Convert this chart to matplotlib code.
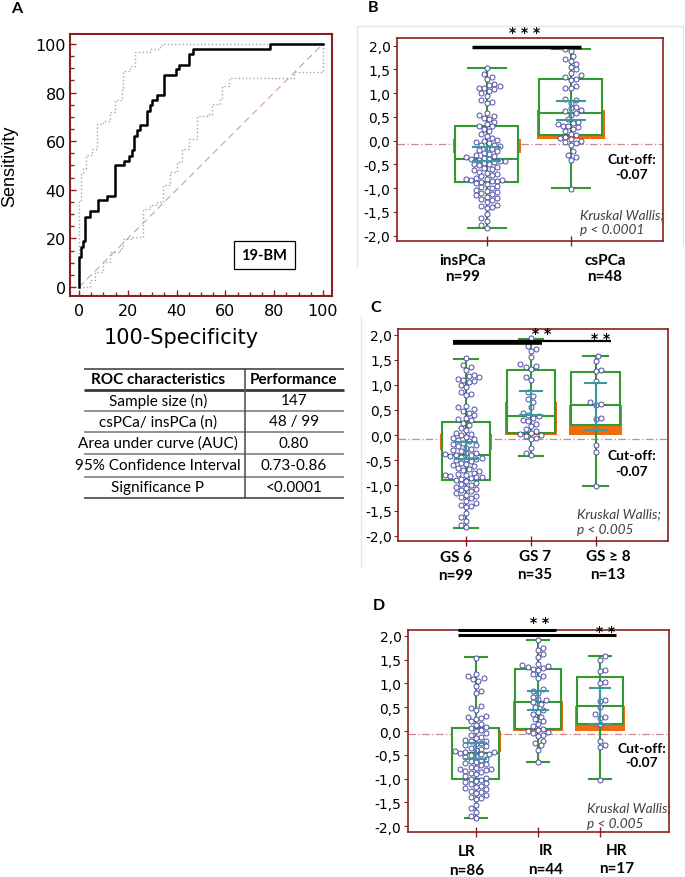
import numpy as np
import matplotlib
matplotlib.use("Agg")
import matplotlib.pyplot as plt
from matplotlib.patches import Rectangle
from matplotlib.ticker import MultipleLocator

# ---------------- ROC data (panel A) ----------------
roc_fpr = [0, 0, 0.8, 1.8, 2.6, 4.5, 7.9, 11.6, 14.8, 18.5, 20.5, 21.9, 22.7, 23.7, 24.8,
           27.8, 28.9, 29.8, 31.9, 34.9, 39.7, 40.8, 44.9, 46.9, 78.3, 100]
roc_tpr = [0, 12.3, 16.4, 18.8, 28.8, 31.1, 35.6, 37.4, 50.0, 52.0, 54.1, 56.2, 62.3, 64.4, 66.7,
           72.6, 74.9, 77.0, 79.2, 87.3, 89.5, 91.5, 95.8, 97.9, 100, 100]
ci_up_fpr = [0, 0, 0.8, 1.8, 2.8, 5.5, 7.3, 9.9, 12.5, 14.8, 17.5, 18.2, 21.0, 23.0, 29.1, 33.2, 35.0, 100]
ci_up_tpr = [0, 35.6, 47.0, 49.0, 54.4, 56.6, 67.0, 68.3, 72.0, 77.0, 82.0, 88.8, 91.0, 96.6, 98.0, 99.4, 100, 100]
ci_lo_fpr = [0, 4.5, 6.5, 9.8, 12.5, 16.7, 18.0, 21.5, 26.1, 29.1, 31.9, 34.6, 37.3, 40.1, 42.1,
             44.9, 48.3, 53.1, 54.4, 57.9, 58.5, 61.3, 88.0, 100, 100]
ci_lo_tpr = [0, 3.0, 6.0, 10.3, 14.4, 16.0, 19.6, 20.5, 31.9, 33.6, 35.0, 41.8, 47.3, 51.4, 56.8,
             61.0, 70.5, 71.2, 75.3, 77.4, 82.9, 85.9, 88.5, 90.4, 100]
diag = [0, 100]
roc_label = "19-BM"

# ---------------- table ----------------
table_header = ["ROC characteristics", "Performance"]
table_rows = ["Sample size (n)", "csPCa/ insPCa (n)", "Area under curve (AUC)",
              "95% Confidence Interval", "Significance P"]
table_vals = ["147", "48 / 99", "0.80", "0.73-0.86", "<0.0001"]

# ---------------- individual values ----------------
vals_inspca = [1.53, 1.40, 1.35, 1.30, 1.20, 1.18, 1.15, 1.12, 1.10, 1.08, 1.05, 1.00, 0.95, 0.85,
               0.82, 0.80, 0.58, 0.55, 0.52, 0.48, 0.45, 0.40, 0.35, 0.32, 0.30,
               0.25, 0.20, 0.15, 0.10, 0.05, 0.02, 0.00, -0.03, -0.05, -0.08, -0.10, -0.12, -0.15,
               -0.18, -0.20, -0.22, -0.25, -0.28, -0.30, -0.32, -0.35, -0.36, -0.38, -0.39,
               -0.40,
               -0.42, -0.43, -0.45, -0.47, -0.48, -0.50, -0.52, -0.55, -0.58, -0.60, -0.62, -0.65,
               -0.68, -0.70, -0.72, -0.75, -0.78, -0.80, -0.80, -0.82, -0.83, -0.84, -0.85, -0.87,
               -0.90, -0.92, -0.95, -0.98, -1.00, -1.03, -1.05, -1.08, -1.10, -1.12, -1.15, -1.18,
               -1.20, -1.22, -1.25, -1.30, -1.35, -1.38, -1.40, -1.42, -1.55, -1.62, -1.70, -1.78, -1.83]
vals_cspca = [1.93, 1.88, 1.78, 1.72, 1.68, 1.62, 1.55, 1.50, 1.42, 1.38, 1.35, 1.30,
              1.28, 1.15, 1.12, 1.10, 0.88, 0.85, 0.80, 0.72, 0.68, 0.65, 0.62, 0.58,
              0.55, 0.45, 0.40, 0.38, 0.35, 0.32, 0.30, 0.28, 0.25, 0.20, 0.15, 0.12,
              0.08, 0.05, 0.03, 0.00, -0.03, -0.05, -0.10, -0.22, -0.30, -0.35, -0.40, -1.02]
vals_gs6 = vals_inspca
vals_gs7 = [1.93, 1.78, 1.72, 1.68, 1.55, 1.42, 1.38, 1.35, 1.32,
            1.15, 1.10, 0.85, 0.78, 0.72, 0.65, 0.55, 0.45, 0.40,
            0.38, 0.35, 0.30, 0.28, 0.22, 0.18, 0.12, 0.08,
            0.05, 0.02, 0.00, -0.02, -0.05, -0.08, -0.25, -0.35, -0.40]
vals_gs8 = [-1.02, -0.33, -0.20, 0.33, 0.35, 0.60, 0.62, 0.65, 1.07, 1.28, 1.30, 1.48, 1.58]
vals_lr = [1.53, 1.20, 1.15, 1.12, 1.10, 1.05, 0.95, 0.85, 0.80, 0.52, 0.48, 0.45, 0.32, 0.30,
           0.28, 0.25, 0.20, 0.15, 0.12, 0.08, 0.06,
           0.03, 0.00, -0.05, -0.08, -0.12, -0.15, -0.18, -0.20, -0.22, -0.25, -0.28, -0.30,
           -0.32, -0.35, -0.38, -0.40, -0.42, -0.43, -0.45, -0.47, -0.48, -0.49, -0.50,
           -0.52, -0.55, -0.58, -0.60, -0.62, -0.65, -0.68, -0.70, -0.72, -0.75, -0.78, -0.80,
           -0.80, -0.82, -0.83, -0.85, -0.88, -0.90, -0.95, -0.98, -1.00,
           -1.03, -1.05, -1.08, -1.10, -1.12, -1.15, -1.18, -1.20, -1.22, -1.25, -1.28, -1.30,
           -1.35, -1.38, -1.40, -1.42, -1.55, -1.62, -1.70, -1.78, -1.83]
vals_ir = [1.92, 1.75, 1.70, 1.62, 1.55, 1.40, 1.38, 1.36, 1.35, 1.33, 1.31,
           1.28, 1.20, 1.15, 1.12, 0.88, 0.85, 0.80, 0.72, 0.68, 0.65, 0.60,
           0.56, 0.50, 0.45, 0.40, 0.35, 0.30, 0.25, 0.20, 0.15, 0.10, 0.05,
           0.02, 0.00, -0.02, -0.05, -0.08, -0.10, -0.20, -0.25, -0.30, -0.40, -0.66]
vals_hr = [-1.02, -0.33, -0.30, -0.20, 0.15, 0.28, 0.30, 0.35, 0.50, 0.62, 0.65, 1.00, 1.02,
           1.25, 1.28, 1.50, 1.57]

# ---------------- box statistics ----------------
b_groups = ["insPCa", "csPCa"]
b_n = [99, 48]
b_q1 = [-0.88, 0.12]
b_med = [-0.39, 0.575]
b_q3 = [0.30, 1.30]
b_min = [-1.83, -1.00]
b_max = [1.54, 1.93]
b_medci = [(-0.26, 0.03), (0.03, 0.64)]
b_meanci = [(-0.435, -0.126), (0.442, 0.842)]

c_groups = ["GS 6", "GS 7", "GS \u2265 8"]
c_n = [99, 35, 13]
c_q1 = [-0.886, 0.05, 0.20]
c_med = [-0.395, 0.39, 0.607]
c_q3 = [0.27, 1.30, 1.26]
c_min = [-1.84, -0.41, -1.02]
c_max = [1.52, 1.91, 1.58]
c_medci = [(-0.29, 0.02), (0.0, 0.65), (0.0, 0.59)]
c_meanci = [(-0.474, -0.13), (0.41, 0.886), (0.11, 1.045)]

d_groups = ["LR", "IR", "HR"]
d_n = [86, 44, 17]
d_q1 = [-1.01, 0.04, 0.15]
d_med = [-0.47, 0.60, 0.52]
d_q3 = [0.056, 1.30, 1.13]
d_min = [-1.83, -0.64, -1.00]
d_max = [1.545, 1.92, 1.58]
d_medci = [(-0.45, 0.01), (0.01, 0.64), (0.01, 0.52)]
d_meanci = [(-0.587, -0.25), (0.44, 0.846), (0.147, 0.895)]

cutoff = -0.07
b_test = ["Kruskal Wallis;", "p < 0.0001"]
cd_test = ["Kruskal Wallis;", "p < 0.005"]

# ---------------- style ----------------
W, H = 685, 878
DARKRED = '#8b1f1f'
GREEN = '#339933'
TEAL = '#3a9a9e'
ORANGE = '#f26a0f'
PTEDGE = '#4d4da8'
CAL = ['Lato', 'DejaVu Sans']

fig = plt.figure(figsize=(W / 100, H / 100), dpi=100)


def px_axes(l, t, r, b, **kw):
    return fig.add_axes([l / W, 1 - b / H, (r - l) / W, (b - t) / H], **kw)


# overlay in pixel coords for annotations / table
ov = px_axes(0, 0, W, H, zorder=20)
ov.set_xlim(0, W)
ov.set_ylim(H, 0)
ov.axis('off')
ov.patch.set_alpha(0)

# ---------------- Panel A ----------------
ax = px_axes(70, 35, 332, 297)
ax.set_xlim(-3.7, 103.7)
ax.set_ylim(-3.7, 104.1)
ax.plot(diag, diag, color='#c9a3a3', lw=0.8, ls=(0, (6, 4)), zorder=1)
ax.plot(ci_lo_fpr, ci_lo_tpr, drawstyle='steps-post', color='#a5a5a5', lw=1.0, ls=':', zorder=2)
ax.plot(ci_up_fpr, ci_up_tpr, drawstyle='steps-post', color='#a5a5a5', lw=1.0, ls=':', zorder=2)
ax.plot(roc_fpr, roc_tpr, drawstyle='steps-post', color='black', lw=1.8, zorder=3)
for s in ax.spines.values():
    s.set_color(DARKRED)
    s.set_linewidth(1.5)
ax.xaxis.set_major_locator(MultipleLocator(20))
ax.yaxis.set_major_locator(MultipleLocator(20))
ax.xaxis.set_minor_locator(MultipleLocator(5))
ax.yaxis.set_minor_locator(MultipleLocator(5))
ax.tick_params(which='both', direction='in', color=DARKRED, width=1.0, top=False, right=False)
ax.tick_params(which='major', length=4)
ax.tick_params(which='minor', length=3)
ax.tick_params(axis='x', pad=5)
ax.tick_params(axis='y', pad=3)
for lab in ax.get_xticklabels() + ax.get_yticklabels():
    lab.set_fontfamily('DejaVu Sans')
    lab.set_fontsize(11.5)
ax.text(76, 13.2, roc_label, ha='center', va='center', fontsize=10.5, fontweight='bold',
        family=CAL, bbox=dict(boxstyle='square,pad=0.5', fc='white', ec='black', lw=0.9), zorder=5)

ov.text(10, 166.7, "Sensitivity", rotation=90, ha='center', va='center', fontsize=13,
        family='Liberation Sans')
ov.text(181, 338, "100-Specificity", ha='center', va='center', fontsize=15, family='DejaVu Sans')
ov.text(16.7, 9.3, "A", ha='center', va='center', fontsize=11.5, fontweight='bold', family=CAL)

# ---------------- Table ----------------
tl, tr, tc = 84, 344, 245
hlines = [370, 391, 411.7, 432.5, 455, 477.5, 499]
for i, y in enumerate(hlines):
    if i in (0, len(hlines) - 1):
        col, lw = '#555555', 1.3
    elif i == 1:
        col, lw = '#3a3a3a', 2.0
    else:
        col, lw = '#8a8a8a', 1.3
    ov.plot([tl, tr], [y, y], color=col, lw=lw, solid_capstyle='butt')
ov.plot([tc, tc], [hlines[0], hlines[-1]], color='#555555', lw=1.2)
c1, c2 = 158, 294
ov.text(c1, (hlines[0] + hlines[1]) / 2, table_header[0], ha='center', va='center',
        fontsize=11, fontweight='bold', family=CAL)
ov.text(c2, (hlines[0] + hlines[1]) / 2, table_header[1], ha='center', va='center',
        fontsize=11, fontweight='bold', family=CAL)
for i, (r, v) in enumerate(zip(table_rows, table_vals)):
    yc = (hlines[i + 1] + hlines[i + 2]) / 2
    ov.text(c1, yc, r, ha='center', va='center', fontsize=11, family=CAL)
    ov.text(c2, yc, v, ha='center', va='center', fontsize=11, family=CAL)


# ---------------- box panels ----------------
def swarm_x(axx, xc, vals, diam=5.2):
    vals = np.asarray(vals, float)
    pts = axx.transData.transform(np.column_stack([np.full(len(vals), xc), vals]))
    xcd = pts[0, 0]
    ys = pts[:, 1]
    order = np.argsort(ys)
    placed = []
    xs = np.zeros(len(vals))
    for n, i in enumerate(order):
        y = ys[i]
        best = None
        for k in range(0, 80):
            sides = [0] if k == 0 else ([1, -1] if n % 2 == 0 else [-1, 1])
            for sg in sides:
                off = sg * k * diam * 0.5
                ok = True
                for (px, py) in placed:
                    if abs(py - y) < diam and (px - off) ** 2 + (py - y) ** 2 < diam ** 2:
                        ok = False
                        break
                if ok:
                    best = off
                    break
            if best is not None:
                break
        placed.append((best, y))
        xs[i] = xcd + best
    return axx.transData.inverted().transform(np.column_stack([xs, ys]))[:, 0]


def box_panel(axx, xlim, ylim, vals, q1, med, q3, vmin, vmax, medci, meanci,
              cap_w, teal_w=0.33, box_w=0.75):
    axx.set_xlim(*xlim)
    axx.set_ylim(*ylim)
    pos = list(range(len(vals)))
    axx.axhline(cutoff, color='#c98a8a', lw=0.9, ls=(0, (6, 2, 1, 2)), zorder=1)
    for i, x in enumerate(pos):
        axx.add_patch(Rectangle((x - box_w / 2 - 0.03, medci[i][0]), box_w + 0.06,
                                medci[i][1] - medci[i][0], fc=ORANGE, ec='none', zorder=2))
        axx.add_patch(Rectangle((x - box_w / 2, q1[i]), box_w, q3[i] - q1[i],
                                fc='white', ec=GREEN, lw=1.5, zorder=3))
        axx.plot([x - box_w / 2, x + box_w / 2], [med[i]] * 2, color=GREEN, lw=1.5, zorder=4)
        axx.plot([x, x], [vmin[i], vmax[i]], color=GREEN, lw=1.5, zorder=4)
        for v in (vmin[i], vmax[i]):
            axx.plot([x - cap_w / 2, x + cap_w / 2], [v, v], color=GREEN, lw=1.5, zorder=4)
        xs = swarm_x(axx, x, vals[i])
        axx.scatter(xs, vals[i], s=13, facecolor='white', edgecolor=PTEDGE, lw=0.7, zorder=5)
        axx.plot([x, x], meanci[i], color=TEAL, lw=1.5, zorder=6)
        for v in meanci[i]:
            axx.plot([x - teal_w / 2, x + teal_w / 2], [v, v], color=TEAL, lw=1.5, zorder=6)
    for s in axx.spines.values():
        s.set_color(DARKRED)
        s.set_linewidth(1.2)
    yt = np.arange(-2.0, 2.01, 0.5)
    axx.set_yticks(yt)
    axx.set_yticklabels([f"{v:.1f}".replace('.', ',') for v in yt], fontfamily='DejaVu Sans',
                        fontsize=10)
    axx.set_xticks(pos)
    axx.set_xticklabels([''] * len(pos))
    axx.tick_params(axis='y', direction='out', length=3, color=DARKRED, pad=1.5)
    axx.tick_params(axis='x', direction='inout', length=7, color=DARKRED, width=1.0)


# Panel B
axb = px_axes(396.7, 39.3, 662.7, 242.3)
box_panel(axb, (-1.07, 2.095), (-2.118, 2.156), [vals_inspca, vals_cspca], b_q1, b_med, b_q3,
          b_min, b_max, b_medci, b_meanci, cap_w=0.45)
axb.plot([-0.17, 1.12], [1.965, 1.965], color='black', lw=2.5, clip_on=False, zorder=7,
         solid_capstyle='butt')
axb.text(0.456, 2.28, "* * *", ha='center', va='center', fontsize=10, fontweight='bold',
         clip_on=False)

# Panel C
axc = px_axes(398.3, 330, 668.3, 542.3)
box_panel(axc, (-1.045, 3.12), (-2.11, 2.11), [vals_gs6, vals_gs7, vals_gs8], c_q1, c_med, c_q3,
          c_min, c_max, c_medci, c_meanci, cap_w=0.38)
axc.plot([-0.2, 2.23], [1.875, 1.875], color='black', lw=1.6, clip_on=False, zorder=7,
         solid_capstyle='butt')
axc.plot([-0.2, 1.17], [1.83, 1.83], color='black', lw=2.6, clip_on=False, zorder=7,
         solid_capstyle='butt')
axc.text(1.17, 2.03, "* *", ha='center', va='center', fontsize=10, fontweight='bold', clip_on=False)
axc.text(2.07, 1.93, "* *", ha='center', va='center', fontsize=10, fontweight='bold', clip_on=False)

# Panel D
axd = px_axes(407.7, 630.7, 669, 832.7)
box_panel(axd, (-1.093, 3.107), (-2.113, 2.126), [vals_lr, vals_ir, vals_hr], d_q1, d_med, d_q3,
          d_min, d_max, d_medci, d_meanci, cap_w=0.35)
axd.plot([-0.29, 1.29], [2.11, 2.11], color='black', lw=2.2, clip_on=False, zorder=7,
         solid_capstyle='butt')
axd.plot([-0.29, 2.26], [2.02, 2.02], color='black', lw=2.2, clip_on=False, zorder=7,
         solid_capstyle='butt')
axd.text(1.03, 2.28, "* *", ha='center', va='center', fontsize=10, fontweight='bold', clip_on=False)
axd.text(2.08, 2.09, "* *", ha='center', va='center', fontsize=10, fontweight='bold', clip_on=False)

# ---------------- overlay texts for box panels ----------------
ov.text(373.3, 8.3, "B", ha='center', va='center', fontsize=11.5, fontweight='bold', family=CAL)
ov.text(376, 308.3, "C", ha='center', va='center', fontsize=11.5, fontweight='bold', family=CAL)
ov.text(379.3, 606, "D", ha='center', va='center', fontsize=11.5, fontweight='bold', family=CAL)

cut_pos = [(631.7, 160, 175), (631.7, 455.7, 471.7), (641.7, 748.7, 763.3)]
for (x, y1, y2) in cut_pos:
    ov.text(x, y1, "Cut-off:", ha='center', va='center', fontsize=10, fontweight='bold', family=CAL)
    ov.text(x, y2, f"{cutoff:.2f}", ha='center', va='center', fontsize=10, fontweight='bold',
            family=CAL)

test_pos = [(580, 215, 230, b_test), (577.3, 514, 530, cd_test), (586.7, 808.3, 824.3, cd_test)]
for (x, y1, y2, t) in test_pos:
    ov.text(x, y1, t[0], ha='left', va='center', fontsize=9.8, style='italic', color='#404040',
            family=CAL)
    ov.text(x, y2, t[1], ha='left', va='center', fontsize=9.8, style='italic', color='#404040',
            family=CAL)

b_lab_pos = [(463, 260.7, 276.7), (605, 260.7, 276.7)]
c_lab_pos = [(456, 558, 576), (535, 557, 575), (608, 557, 575)]
d_lab_pos = [(466.5, 852.5, 871), (545.5, 851, 870), (617, 851, 869.5)]
for groups, ns, lp in [(b_groups, b_n, b_lab_pos), (c_groups, c_n, c_lab_pos),
                       (d_groups, d_n, d_lab_pos)]:
    for g, n, (x, y1, y2) in zip(groups, ns, lp):
        ov.text(x, y1, g, ha='center', va='center', fontsize=11, fontweight='bold', family=CAL)
        ov.text(x, y2, f"n={n}", ha='center', va='center', fontsize=11, fontweight='bold',
                family=CAL)

# faint panel borders
ov.plot([356.7, 683, 683], [26.7, 26.7, 245], color='#e6e6e6', lw=1.0)
ov.plot([356.7, 356.7], [26.7, 266.7], color='#e6e6e6', lw=1.0)
ov.plot([360.7, 360.7], [318.3, 568.3], color='#e6e6e6', lw=1.0)

fig.savefig("out.png", dpi=100)
